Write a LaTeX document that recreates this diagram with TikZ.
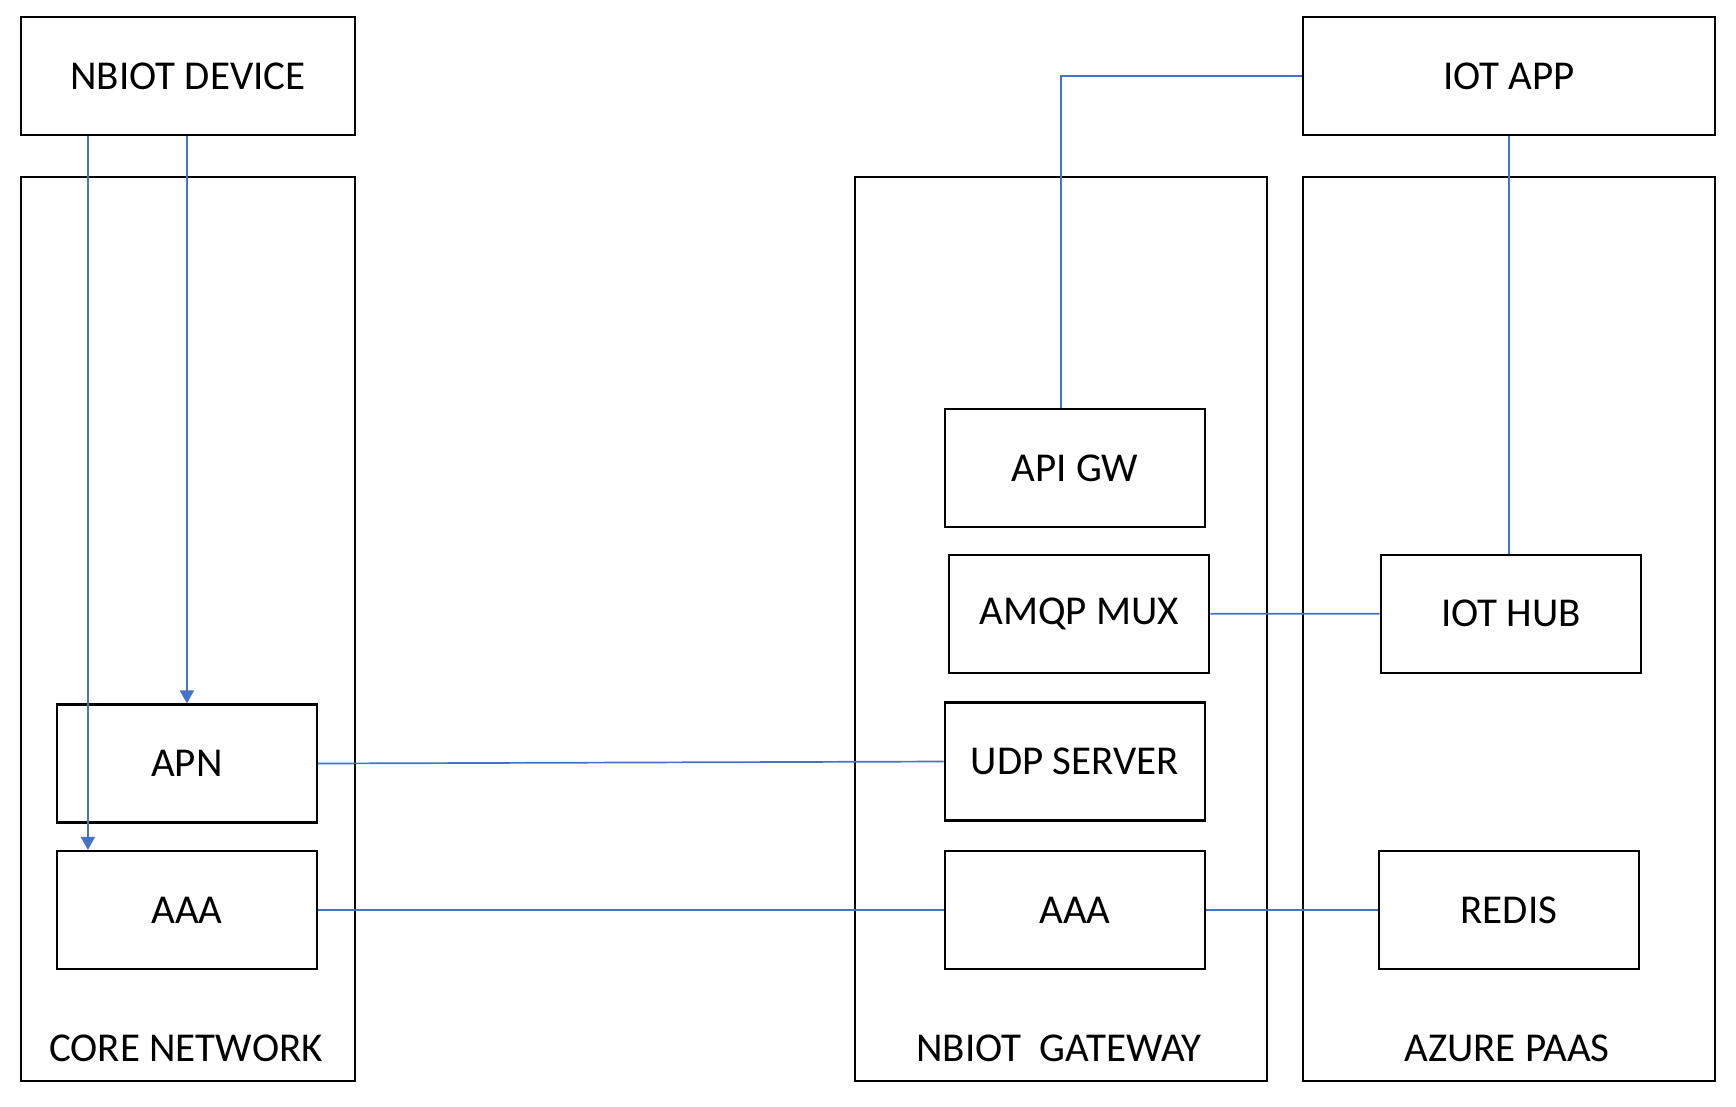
\documentclass[tikz,border=0pt]{standalone}
\usepackage{fontspec}
\setmainfont{Carlito}
\usetikzlibrary{arrows.meta}
\definecolor{linkblue}{HTML}{4472C4}
\begin{document}
\begin{tikzpicture}[x=1pt,y=-1pt,
  box/.style={draw=black, line width=2.2pt, fill=white, inner sep=0pt, font=\fontsize{41}{48}\selectfont},
  sbox/.style={box, minimum width=260.3pt, minimum height=118pt},
  lbl/.style={inner sep=0pt, anchor=base, font=\fontsize{41}{48}\selectfont},
  link/.style={draw=linkblue, line width=1.7pt},
  arr/.style={link, -{Triangle[width=14pt,length=13pt]}}]
\useasboundingbox (0,0) rectangle (1736,1106);
% containers
\node[box, minimum width=334pt, minimum height=904pt] (core) at (188,629) {};
\node[box, minimum width=412.3pt, minimum height=904pt] (gw) at (1060.9,629) {};
\node[box, minimum width=412pt, minimum height=904pt] (azure) at (1509,629) {};
\node[lbl] (corelbl) at (186,1061) {CORE NETWORK};
\node[lbl] (gwlbl) at (1059,1061) {NBIOT\ \ GATEWAY};
\node[lbl] (azurelbl) at (1507,1061) {AZURE PAAS};
% top boxes
\node[box, minimum width=334pt, minimum height=118pt] (dev) at (188,76) {NBIOT DEVICE};
\node[box, minimum width=412pt, minimum height=118pt] (app) at (1509,76) {IOT APP};
% inner boxes
\node[sbox] (apn) at (186.9,763.5) {APN};
\node[sbox] (aaa1) at (186.9,910) {AAA};
\node[sbox] (apigw) at (1074.9,468) {API GW};
\node[sbox] (amqp) at (1079,613.7) {AMQP MUX};
\node[sbox] (udp) at (1074.9,761.5) {UDP SERVER};
\node[sbox] (aaa2) at (1074.9,910) {AAA};
\node[sbox] (hub) at (1510.9,613.8) {IOT HUB};
\node[sbox] (redis) at (1508.9,910) {REDIS};
% connectors
\draw[arr] ([xshift=68pt]dev.south west) -- ([xshift=68pt]dev.south west |- aaa1.north);
\draw[arr] (dev.south -| apn.north) -- (apn.north);
\draw[link] (app.west) -| ([xshift=-14pt]apigw.north);
\draw[link] (app.south) -- (app.south |- hub.north);
\draw[link] (amqp.east) -- (hub.west);
\draw[link] (apn.east) -- (udp.west);
\draw[link] (aaa1.east) -- (aaa2.west);
\draw[link] (aaa2.east) -- (redis.west);
\end{tikzpicture}
\end{document}
